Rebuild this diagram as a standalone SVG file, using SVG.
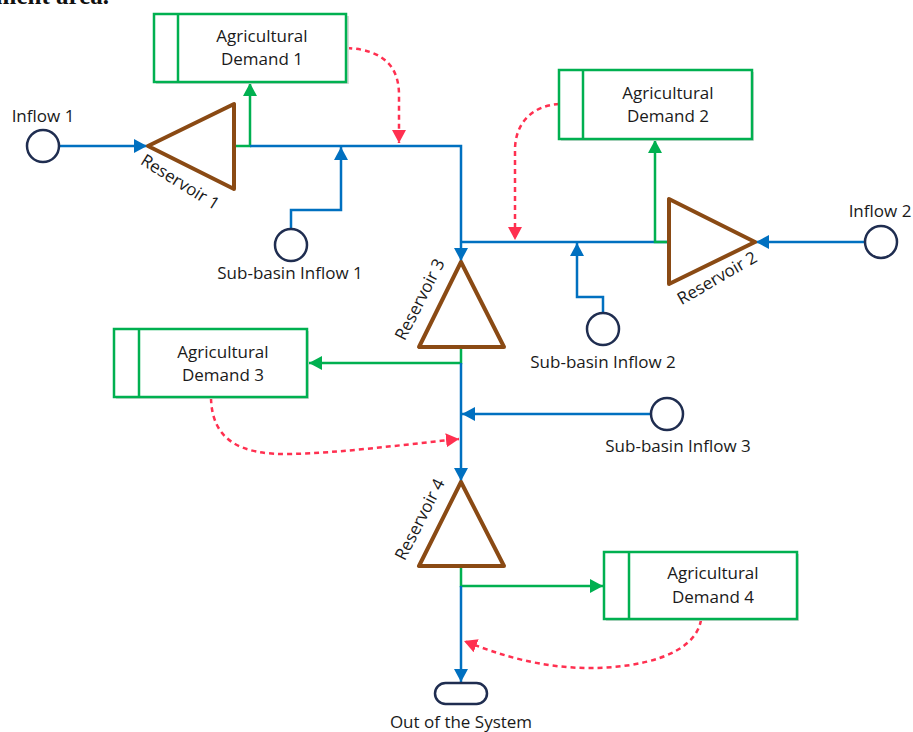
<svg xmlns="http://www.w3.org/2000/svg" width="913" height="732" viewBox="0 0 913 732">
<style>
.t{font-family:"Open Sans","Liberation Sans",sans-serif;font-size:17px;fill:#1a1a1a}
.c{text-anchor:middle}
.box{fill:#fff;stroke:#00b050;stroke-width:2.5}
.sh{fill:#d9d9d9}
.res{fill:none;stroke:#8a4a14;stroke-width:4;stroke-linejoin:round}
.src{fill:#fff;stroke:#1f2d50;stroke-width:2.5}
.bl{fill:none;stroke:#0070c0;stroke-width:2.5}
.gr{fill:none;stroke:#00b050;stroke-width:2.5}
.rd{fill:none;stroke:#ff3050;stroke-width:2.5;stroke-dasharray:5 4}
</style>
<defs>
<marker id="ab" markerUnits="userSpaceOnUse" markerWidth="14" markerHeight="14" refX="13" refY="7" orient="auto"><path d="M0,0 L13,7 L0,14 z" fill="#0070c0"/></marker>
<marker id="ag" markerUnits="userSpaceOnUse" markerWidth="14" markerHeight="14" refX="13" refY="7" orient="auto"><path d="M0,0 L13,7 L0,14 z" fill="#00b050"/></marker>
<marker id="ar" markerUnits="userSpaceOnUse" markerWidth="14" markerHeight="14" refX="13" refY="7" orient="auto"><path d="M0,0 L13,7 L0,14 z" fill="#ff3050"/></marker>
</defs>
<text x="109" y="4" text-anchor="end" style="font-family:'Liberation Serif',serif;font-weight:bold;font-size:25px;fill:#111">catchment area.</text>

<g id="connectors">
<path class="bl" d="M59,146 H147" marker-end="url(#ab)"/>
<path class="gr" d="M234,146 H250 V83" marker-end="url(#ag)"/>
<path class="bl" d="M250,146 H461 V261" marker-end="url(#ab)"/>
<path class="bl" d="M291,229 V210 H341 V147" marker-end="url(#ab)"/>
<path class="rd" d="M347,48 C385,50 399,68 399,95 L399,143" marker-end="url(#ar)"/>
<path class="bl" d="M461,242 H669"/>
<path class="gr" d="M669,242 H655 V140" marker-end="url(#ag)"/>
<path class="bl" d="M865,242 H756" marker-end="url(#ab)"/>
<path class="rd" d="M559,104 C530,106 515,125 515,150 L515,240" marker-end="url(#ar)"/>
<path class="bl" d="M603,313 V297 H577 V243" marker-end="url(#ab)"/>
<path class="gr" d="M461,347 V363 H309" marker-end="url(#ag)"/>
<path class="bl" d="M461,363 V481" marker-end="url(#ab)"/>
<path class="bl" d="M651,414 H462" marker-end="url(#ab)"/>
<path class="rd" d="M211,398 C212,440 240,455 290,454 C340,453 400,445 459,439" marker-end="url(#ar)"/>
<path class="gr" d="M461,566 V586 H603" marker-end="url(#ag)"/>
<path class="bl" d="M461,586 V682" marker-end="url(#ab)"/>
<path class="rd" d="M701,620 C695,655 640,668 590,668 C540,668 500,655 464,641" marker-end="url(#ar)"/>
</g>

<g id="inflow1"><circle class="src" cx="43" cy="146" r="16"/><text class="t c" x="43" y="122">Inflow 1</text></g>
<g id="inflow2"><circle class="src" cx="881" cy="242" r="16"/><text class="t c" x="880" y="217">Inflow 2</text></g>
<g id="subbasin1"><circle class="src" cx="291" cy="245" r="16"/><text class="t c" x="290" y="279">Sub-basin Inflow 1</text></g>
<g id="subbasin2"><circle class="src" cx="603" cy="329" r="16"/><text class="t c" x="603" y="368">Sub-basin Inflow 2</text></g>
<g id="subbasin3"><circle class="src" cx="667" cy="414" r="16"/><text class="t c" x="678" y="452">Sub-basin Inflow 3</text></g>

<g id="reservoir1"><path class="res" d="M148,146 L234,104 L234,189 Z"/><text class="t c" transform="translate(177,187) rotate(32)">Reservoir 1</text></g>
<g id="reservoir2"><path class="res" d="M755,242 L669,199 L669,284 Z"/><text class="t c" transform="translate(720,283) rotate(-30)">Reservoir 2</text></g>
<g id="reservoir3"><path class="res" d="M461,262 L419,347 L504,347 Z"/><text class="t c" transform="translate(425,302) rotate(-63)">Reservoir 3</text></g>
<g id="reservoir4"><path class="res" d="M461,482 L419,566 L504,566 Z"/><text class="t c" transform="translate(425,522) rotate(-63)">Reservoir 4</text></g>

<g id="demand1"><rect class="sh" x="156" y="16" width="193" height="68"/><rect class="box" x="154" y="14" width="192" height="68"/><line class="gr" x1="178" y1="14" x2="178" y2="82"/><text class="t c" x="262" y="42">Agricultural</text><text class="t c" x="262" y="65">Demand 1</text></g>
<g id="demand2"><rect class="sh" x="561" y="72" width="193" height="69"/><rect class="box" x="559" y="70" width="193" height="69"/><line class="gr" x1="583" y1="70" x2="583" y2="139"/><text class="t c" x="668" y="99">Agricultural</text><text class="t c" x="668" y="122">Demand 2</text></g>
<g id="demand3"><rect class="sh" x="116" y="331" width="193" height="68"/><rect class="box" x="114" y="329" width="193" height="68"/><line class="gr" x1="139" y1="329" x2="139" y2="397"/><text class="t c" x="223" y="358">Agricultural</text><text class="t c" x="223" y="381">Demand 3</text></g>
<g id="demand4"><rect class="sh" x="606" y="554" width="193" height="67"/><rect class="box" x="604" y="552" width="193" height="67"/><line class="gr" x1="629" y1="552" x2="629" y2="619"/><text class="t c" x="713" y="579">Agricultural</text><text class="t c" x="713" y="603">Demand 4</text></g>

<g id="out"><rect class="src" x="435" y="683" width="52" height="21" rx="10.5"/><text class="t c" x="461" y="728">Out of the System</text></g>
</svg>
